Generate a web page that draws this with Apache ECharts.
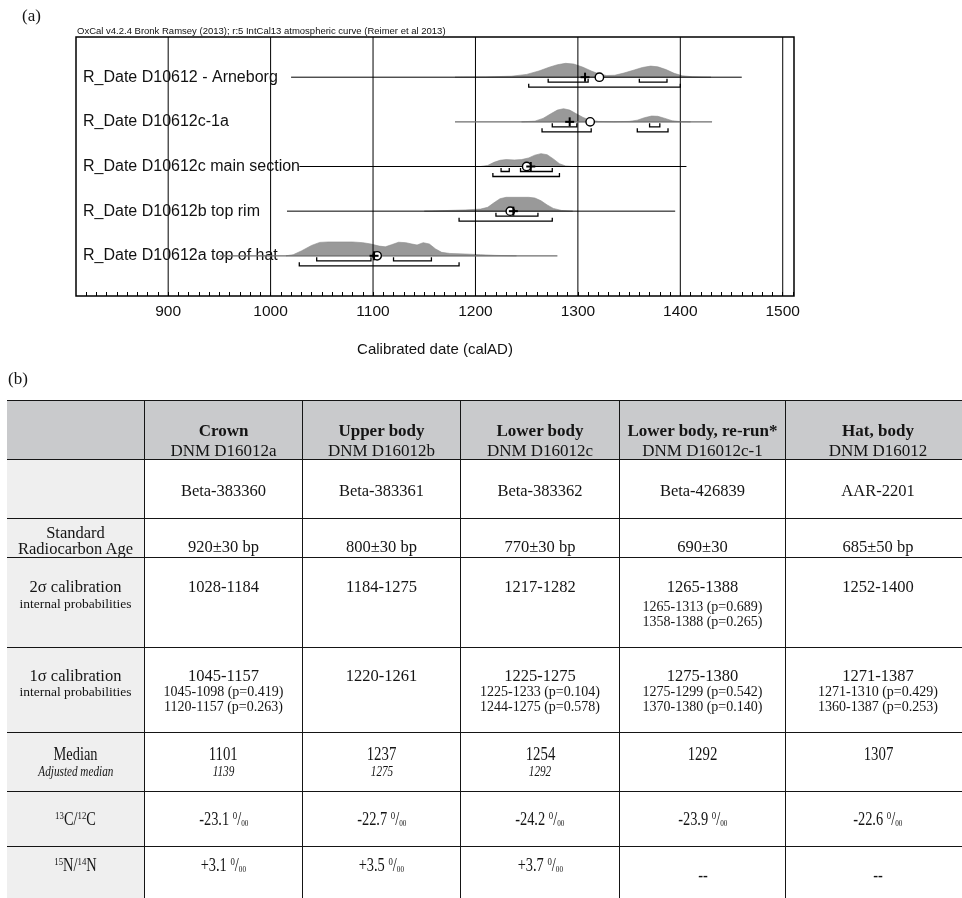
<!DOCTYPE html>
<html>
<head>
<meta charset="utf-8">
<script src="https://cdn.jsdelivr.net/npm/echarts@6/dist/echarts.min.js"></script>
<style>
html,body{margin:0;padding:0;background:#fff;}
body{width:962px;height:898px;position:relative;overflow:hidden;font-family:"Liberation Serif","Times New Roman",serif;color:#141414;}
#chart{position:absolute;left:0;top:0;width:962px;height:370px;}
#blabel{position:absolute;left:8px;top:369px;font-size:17px;line-height:20px;}
#tbl{position:absolute;left:0;top:0;width:962px;height:898px;}
.cell{position:absolute;box-sizing:border-box;text-align:center;border-top:1.5px solid #151515;overflow:hidden;}
.vl{border-left:1.2px solid #151515;}
.hdr{background:#c9cacc;}
.c0{background:#efefef;}
.main{font-size:16.5px;line-height:20px;white-space:nowrap;}
.sub{font-size:14px;line-height:15px;white-space:nowrap;}
.lbl{font-size:16.5px;line-height:16px;white-space:nowrap;}
.lblsub{font-size:13.5px;line-height:14px;white-space:nowrap;}
.hd{font-size:17px;line-height:20px;white-space:nowrap;}
.cond{display:inline-block;transform:scaleX(0.8);transform-origin:center;white-space:nowrap;}
.sp{font-size:11px;position:relative;top:-6px;}
.sb{font-size:9px;position:relative;top:1px;}
</style>
</head>
<body>
<div id="chart"></div>
<div id="blabel">(b)</div>
<div id="tbl"></div>
<script>
// ---- Calibrated dates: one entry per R_Date, top to bottom ----
const rowLabels = [
  'R_Date D10612 - Arneborg',
  'R_Date D10612c-1a',
  'R_Date D10612c main section',
  'R_Date D10612b top rim',
  'R_Date D10612a top of hat'
];
// extent of the likelihood line for each date (calAD)
const lineSpans = [[1020, 1460], [1180, 1431], [1028, 1406], [1016, 1395], [950, 1280]];
// relative posterior density, [year, density]
const densArneborg = [[1180,0],[1210,0.02],[1235,0.07],[1250,0.2],[1262,0.45],[1272,0.72],[1280,0.9],[1288,1.0],[1296,0.95],[1305,0.72],[1313,0.45],[1320,0.25],[1328,0.12],[1336,0.14],[1345,0.3],[1355,0.52],[1363,0.7],[1371,0.8],[1378,0.75],[1386,0.55],[1394,0.28],[1402,0.1],[1412,0.03],[1430,0]];
const densC1 = [[1245,0],[1258,0.05],[1266,0.25],[1274,0.6],[1280,0.85],[1286,0.95],[1292,0.85],[1298,0.6],[1305,0.32],[1312,0.12],[1320,0.03],[1335,0.01],[1350,0.03],[1358,0.12],[1365,0.3],[1372,0.42],[1378,0.4],[1385,0.25],[1392,0.08],[1400,0.02],[1410,0]];
const densC = [[1205,0],[1212,0.08],[1218,0.3],[1224,0.45],[1230,0.5],[1238,0.47],[1245,0.5],[1252,0.62],[1258,0.82],[1264,0.93],[1270,0.85],[1276,0.55],[1282,0.2],[1288,0.04],[1295,0]];
const densB = [[1150,0],[1170,0.04],[1190,0.09],[1205,0.15],[1212,0.28],[1218,0.6],[1224,0.9],[1230,1.0],[1252,1.0],[1258,0.95],[1264,0.75],[1270,0.45],[1276,0.2],[1284,0.05],[1295,0]];
const densA = [[1015,0],[1022,0.08],[1030,0.35],[1040,0.75],[1048,0.97],[1056,1.0],[1080,1.0],[1090,0.95],[1098,0.85],[1106,0.7],[1112,0.65],[1118,0.8],[1125,0.98],[1132,0.95],[1138,0.85],[1143,0.78],[1149,0.95],[1155,0.85],[1161,0.5],[1167,0.25],[1175,0.17],[1190,0.13],[1205,0.08],[1220,0.03],[1240,0]];
const densities = [densArneborg, densC1, densC, densB, densA];
// 68.2% (1 sigma) and 95.4% (2 sigma) ranges
const sigma1 = [[[1271,1310],[1360,1387]], [[1275,1299],[1370,1380]], [[1225,1233],[1244,1275]], [[1220,1261]], [[1045,1098],[1120,1157]]];
const sigma2 = [[[1252,1400]], [[1265,1313],[1358,1388]], [[1217,1282]], [[1184,1275]], [[1028,1184]]];
const prob1 = [[0.429,0.253], [0.542,0.140], [0.104,0.578], [], [0.419,0.263]];
const prob2 = [[], [0.689,0.265], [], [], []];
const medians = [1307, 1292, 1254, 1237, 1101];
const means = [1321, 1312, 1250, 1234, 1104];
const gridYears = [900, 1000, 1100, 1200, 1300, 1400, 1500];

// ---- Table columns ----
const colTitles = ['Crown', 'Upper body', 'Lower body', 'Lower body, re-run*', 'Hat, body'];
const colCodes = ['DNM D16012a', 'DNM D16012b', 'DNM D16012c', 'DNM D16012c-1', 'DNM D16012'];
const labCodes = ['Beta-383360', 'Beta-383361', 'Beta-383362', 'Beta-426839', 'AAR-2201'];
const c14Ages = ['920±30 bp', '800±30 bp', '770±30 bp', '690±30', '685±50 bp'];
const adjMedians = ['1139', '1275', '1292', '', ''];
const d13C = ['-23.1', '-22.7', '-24.2', '-23.9', '-22.6'];
const d15N = ['+3.1', '+3.5', '+3.7', '--', '--'];
const colRow = [4, 3, 2, 1, 0];   // which R_Date each column belongs to

// ---------------- chart ----------------
const X_MIN = 810, X_MAX = 1511, Y_MAX = 5.8, TOP_ROW = 4.9, DENS_SCALE = 0.31;
const SANS = '"Liberation Sans", Arial, sans-serif';
const chart = echarts.init(document.getElementById('chart'), null, {renderer: 'canvas'});
const rowData = rowLabels.map((_, i) => [medians[i], TOP_ROW - i, i]);

function renderFill(params, api) {
  const i = api.value(2), base = api.value(1);
  const d = densities[i];
  const pts = d.map(p => api.coord([p[0], base + p[1] * DENS_SCALE]));
  pts.push(api.coord([d[d.length - 1][0], base]));
  pts.push(api.coord([d[0][0], base]));
  return {type: 'polygon', shape: {points: pts}, style: {fill: '#999999', stroke: '#8a8a8a', lineWidth: 0.6}};
}
function renderGrid(params, api) {
  const a = api.coord([api.value(0), 0]);
  const b = api.coord([api.value(0), Y_MAX]);
  return {type: 'line', shape: {x1: a[0], y1: a[1], x2: b[0], y2: b[1]}, style: {stroke: '#000', lineWidth: 1}};
}
function bracket(api, r, base, off) {
  const a = api.coord([r[0], base]), b = api.coord([r[1], base]);
  const y = a[1] + off;
  return {type: 'polyline', shape: {points: [[a[0], y - 3.5], [a[0], y], [b[0], y], [b[0], y - 3.5]]},
          style: {stroke: '#000', lineWidth: 1.3, fill: null}};
}
function renderMarks(params, api) {
  const i = api.value(2), base = api.value(1);
  const kids = [];
  const left = api.coord([X_MIN, base]);
  kids.push({type: 'text', x: left[0] + 7, y: left[1], style: {text: rowLabels[i], fill: '#111', fontSize: 16, fontFamily: SANS, verticalAlign: 'middle', align: 'left'}});
  const s = api.coord([lineSpans[i][0], base]), e = api.coord([lineSpans[i][1], base]);
  const grey = (i === 1 || i === 4);
  kids.push({type: 'line', shape: {x1: s[0], y1: s[1], x2: e[0], y2: e[1]}, style: {stroke: grey ? '#6e6e6e' : '#000', lineWidth: grey ? 1.2 : 1}});
  sigma1[i].forEach(r => kids.push(bracket(api, r, base, 5)));
  sigma2[i].forEach(r => kids.push(bracket(api, r, base, 10)));
  const c = api.coord([means[i], base]);
  kids.push({type: 'circle', shape: {cx: c[0], cy: c[1], r: 4.2}, style: {fill: '#fff', stroke: '#000', lineWidth: 1.4}});
  const m = api.coord([medians[i], base]);
  kids.push({type: 'line', shape: {x1: m[0] - 4.5, y1: m[1], x2: m[0] + 4.5, y2: m[1]}, style: {stroke: '#000', lineWidth: 2}});
  kids.push({type: 'line', shape: {x1: m[0], y1: m[1] - 4.5, x2: m[0], y2: m[1] + 4.5}, style: {stroke: '#000', lineWidth: 2}});
  return {type: 'group', children: kids};
}

chart.setOption({
  animation: false,
  grid: {left: 76, right: 168, top: 37, bottom: 74, show: true, borderColor: '#000', borderWidth: 1.5, backgroundColor: 'transparent'},
  xAxis: {
    type: 'value', min: X_MIN, max: X_MAX, interval: 10,
    axisLine: {show: false},
    axisTick: {show: true, inside: true, length: 4, lineStyle: {color: '#000', width: 1}},
    splitLine: {show: false},
    axisLabel: {formatter: v => (v % 100 === 0 ? String(v) : ''), fontSize: 15.5, color: '#111', fontFamily: SANS, margin: 8, showMinLabel: false, showMaxLabel: false},
    name: 'Calibrated date (calAD)', nameLocation: 'middle', nameGap: 46,
    nameTextStyle: {fontSize: 15, color: '#111', fontFamily: SANS}
  },
  yAxis: {type: 'value', min: 0, max: Y_MAX, show: false},
  graphic: [
    {type: 'text', left: 22, top: 8, style: {text: '(a)', fontSize: 17, fontFamily: '"Liberation Serif", serif', fill: '#141414'}},
    {type: 'text', left: 77, top: 26, style: {text: 'OxCal v4.2.4 Bronk Ramsey (2013); r:5 IntCal13 atmospheric curve (Reimer et al 2013)', fontSize: 9.5, fontFamily: SANS, fill: '#111'}}
  ],
  series: [
    {type: 'custom', coordinateSystem: 'cartesian2d', renderItem: renderFill, data: rowData, encode: {x: 0, y: 1}, z: 2, silent: true},
    {type: 'custom', coordinateSystem: 'cartesian2d', renderItem: renderGrid, data: gridYears.map(v => [v, 0]), encode: {x: 0, y: 1}, z: 3, silent: true},
    {type: 'custom', coordinateSystem: 'cartesian2d', renderItem: renderMarks, data: rowData, encode: {x: 0, y: 1}, z: 4, silent: true}
  ]
});

// ---------------- table ----------------
const colLeft = [7, 144, 302, 460, 619, 785, 970];
const rowTop = [400, 459, 518, 557, 647, 732, 791, 846, 905];
const permil = v => `${v} <span class="sp">0</span>/<span class="sb">00</span>`;
const spanOf = rs => rs[0][0] + '-' + rs[rs.length - 1][1];
function calCell(rs, ps, gap) {
  let h = `<div class="main">${spanOf(rs)}</div>`;
  if (rs.length > 1) {
    h += `<div class="sub" style="margin-top:${gap}px">` +
      rs.map((r, k) => `${r[0]}-${r[1]} (p=${ps[k].toFixed(3)})`).join('<br>') + '</div>';
  }
  return h;
}
const rowsSpec = [
  {cls: 'hdr', first: ['', 0], pad: 20, cell: j => `<div class="hd"><b>${colTitles[j]}</b></div><div class="hd">${colCodes[j]}</div>`},
  {first: ['', 0], pad: 21, cell: j => `<div class="main">${labCodes[j]}</div>`},
  {first: ['<div class="lbl">Standard</div><div class="lbl">Radiocarbon Age</div>', 6], pad: 18, cell: j => `<div class="main">${c14Ages[j]}</div>`},
  {first: ['<div class="main">2σ calibration</div><div class="lblsub">internal probabilities</div>', 19], pad: 19,
   cell: j => calCell(sigma2[colRow[j]], prob2[colRow[j]], 1.5)},
  {first: ['<div class="main">1σ calibration</div><div class="lblsub" style="margin-top:-1px">internal probabilities</div>', 18], pad: 18,
   cell: j => calCell(sigma1[colRow[j]], prob1[colRow[j]], -2.5)},
  {first: ['<div class="main" style="font-size:18px;line-height:18px"><span class="cond">Median</span></div><div style="font-size:14px;line-height:18px;font-style:italic"><span class="cond">Adjusted median</span></div>', 12], pad: 12,
   cell: j => `<div class="main" style="font-size:18.5px;line-height:18px"><span class="cond">${medians[colRow[j]]}</span></div>` +
              (adjMedians[j] ? `<div style="font-size:14px;line-height:18px;font-style:italic"><span class="cond">${adjMedians[j]}</span></div>` : '')},
  {first: ['<div class="main" style="font-size:18px"><span class="cond"><span class="sp">13</span>C/<span class="sp">12</span>C</span></div>', 17], pad: 17,
   cell: j => `<div class="main" style="font-size:18px"><span class="cond">${permil(d13C[j])}</span></div>`},
  {first: ['<div class="main" style="font-size:18px"><span class="cond"><span class="sp">15</span>N/<span class="sp">14</span>N</span></div>', 8], pad: 8,
   cell: j => d15N[j] === '--'
     ? `<div class="main" style="font-size:18px;padding-top:10px"><span class="cond">--</span></div>`
     : `<div class="main" style="font-size:18px"><span class="cond">${permil(d15N[j])}</span></div>`}
];
let html = '';
rowsSpec.forEach((r, ri) => {
  const top = rowTop[ri], h = rowTop[ri + 1] - top;
  for (let c = 0; c < 6; c++) {
    const left = colLeft[c], w = colLeft[c + 1] - left;
    const bg = r.cls === 'hdr' ? 'hdr' : (c === 0 ? 'c0' : '');
    const content = c === 0 ? r.first[0] : r.cell(c - 1);
    const pad = c === 0 ? r.first[1] : r.pad;
    html += `<div class="cell ${bg} ${c > 0 ? 'vl' : ''}" style="left:${left}px;top:${top}px;width:${w}px;height:${h}px;padding-top:${pad}px">${content}</div>`;
  }
});
document.getElementById('tbl').innerHTML = html;
</script>
</body>
</html>
